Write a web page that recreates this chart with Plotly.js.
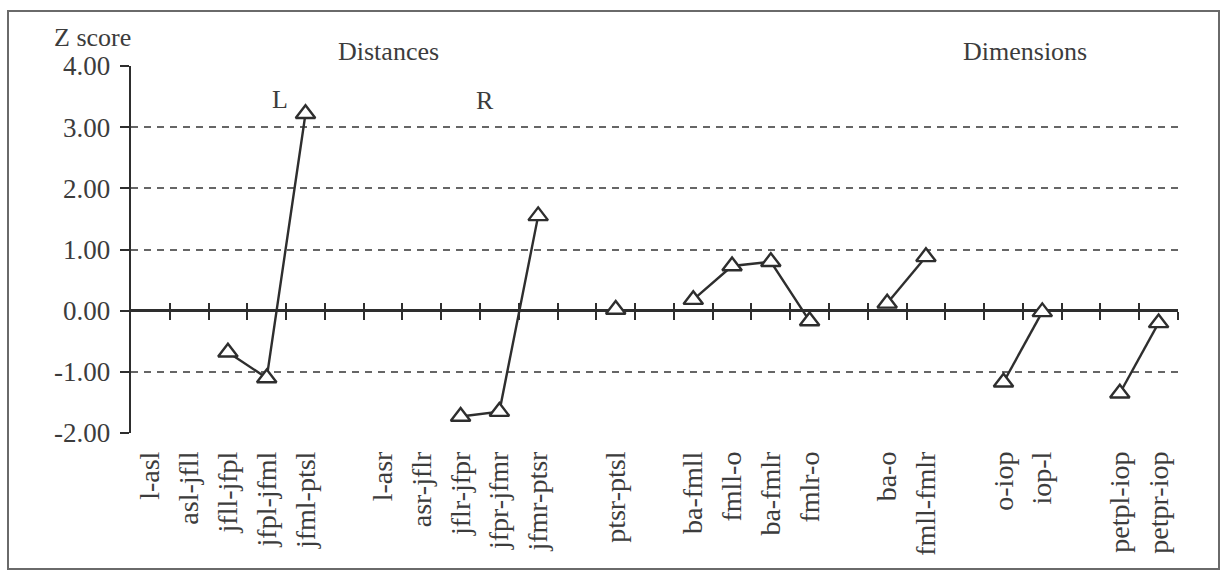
<!DOCTYPE html>
<html>
<head>
<meta charset="utf-8">
<script src="https://cdn.plot.ly/plotly-3.0.1.min.js"></script>
<style>
  html, body { margin: 0; padding: 0; background: #fff; }
  #chart { width: 1221px; height: 578px; position: relative; }
  #frame { position: absolute; left: 7px; top: 10px; width: 1209px; height: 556px;
           border: 2px solid #6a6a6a; pointer-events: none; }
</style>
</head>
<body>
<div id="chart"></div>
<div id="frame"></div>
<script>
// Category slots along the x axis ("" = empty slot)
const categories = [
  "l-asl", "asl-jfll", "jfll-jfpl", "jfpl-jfml", "jfml-ptsl", "",
  "l-asr", "asr-jflr", "jflr-jfpr", "jfpr-jfmr", "jfmr-ptsr", "",
  "ptsr-ptsl", "",
  "ba-fmll", "fmll-o", "ba-fmlr", "fmlr-o", "",
  "ba-o", "fmll-fmlr", "",
  "o-iop", "iop-l", "",
  "petpl-iop", "petpr-iop"
];
// Z scores (null = no point)
const zScores = [
  null, null, -0.68, -1.10, 3.22, null,
  null, null, -1.73, -1.65, 1.55, null,
  0.02, null,
  0.18, 0.73, 0.80, -0.17, null,
  0.12, 0.88, null,
  -1.17, -0.02, null,
  -1.35, -0.20
];
const yTicks = [-2, -1, 0, 1, 2, 3, 4];
const yTickText = ["-2.00", "-1.00", "0.00", "1.00", "2.00", "3.00", "4.00"];
const groupLabels = ["Distances", "Dimensions"];
const sideLabels = ["L", "R"];

const idx = categories.map((_, i) => i);
const labelIdx = idx.filter(i => categories[i] !== "");
const labelText = labelIdx.map(i => categories[i]);
const boundaries = idx.map(i => i + 0.5);

const ink = "#2e2e2e";
const txt = "#3c3c3c";
const fontFam = "Liberation Serif";
const xRange = [-0.5, categories.length - 0.5];
const zeroPos = (0 - yTicks[0]) / (yTicks[yTicks.length - 1] - yTicks[0]);

const traces = [
  {
    x: idx, y: zScores, type: "scatter", mode: "lines+markers",
    connectgaps: false,
    line: { color: ink, width: 2.4 },
    marker: { symbol: "triangle-up", size: 17, color: "#ffffff",
              line: { color: ink, width: 2.4 } },
    cliponaxis: false, hoverinfo: "x+y", showlegend: false
  },
  { x: idx, y: zScores, xaxis: "x2", type: "scatter", mode: "markers",
    marker: { opacity: 0 }, hoverinfo: "skip", showlegend: false },
  { x: idx, y: zScores, xaxis: "x3", type: "scatter", mode: "markers",
    marker: { opacity: 0 }, hoverinfo: "skip", showlegend: false }
];

const tickAxisBase = {
  overlaying: "x", anchor: "free", position: zeroPos, side: "bottom",
  range: xRange, tickmode: "array", tickvals: boundaries,
  showticklabels: false, showgrid: false, zeroline: false, showline: false,
  tickcolor: ink, tickwidth: 2, ticklen: 8, fixedrange: true
};

const layout = {
  width: 1221, height: 578,
  margin: { l: 131, r: 43, t: 66, b: 145 },
  paper_bgcolor: "#ffffff", plot_bgcolor: "#ffffff",
  font: { family: fontFam, color: txt, size: 26 },
  xaxis: {
    range: xRange, tickmode: "array", tickvals: labelIdx, ticktext: labelText,
    tickangle: -90, ticks: "", showgrid: false, zeroline: false, showline: false,
    ticklabelstandoff: 12, tickfont: { size: 28, color: txt, family: fontFam },
    fixedrange: true
  },
  xaxis2: Object.assign({}, tickAxisBase, { ticks: "outside" }),
  xaxis3: Object.assign({}, tickAxisBase, { ticks: "inside" }),
  yaxis: {
    range: [yTicks[0], yTicks[yTicks.length - 1]],
    tickmode: "array", tickvals: yTicks, ticktext: yTickText,
    showgrid: true, gridcolor: "#666666", gridwidth: 2, griddash: "7px,6px",
    zeroline: true, zerolinecolor: ink, zerolinewidth: 2.4,
    showline: true, linecolor: ink, linewidth: 2.4,
    ticks: "outside", ticklen: 9, tickwidth: 2, tickcolor: ink,
    ticklabelstandoff: 4, tickfont: { size: 27, color: txt, family: fontFam },
    fixedrange: true
  },
  annotations: [
    { text: "Z score", xref: "paper", yref: "paper", x: 0, y: 1,
      xanchor: "right", yanchor: "bottom", xshift: 2, yshift: 12,
      showarrow: false, font: { size: 26, color: txt, family: fontFam } },
    { text: groupLabels[0], xref: "paper", yref: "paper", x: 0.246, y: 1,
      xanchor: "center", yanchor: "bottom", yshift: -2,
      showarrow: false, font: { size: 26, color: txt, family: fontFam } },
    { text: groupLabels[1], xref: "paper", yref: "paper", x: 0.854, y: 1,
      xanchor: "center", yanchor: "bottom", yshift: -2,
      showarrow: false, font: { size: 26, color: txt, family: fontFam } },
    { text: sideLabels[0], xref: "x", yref: "y", x: 3.34, y: 3.46,
      showarrow: false, font: { size: 26, color: txt, family: fontFam } },
    { text: sideLabels[1], xref: "x", yref: "y", x: 8.63, y: 3.43,
      showarrow: false, font: { size: 26, color: txt, family: fontFam } }
  ]
};

Plotly.newPlot("chart", traces, layout, { displayModeBar: false, staticPlot: true });
</script>
</body>
</html>
